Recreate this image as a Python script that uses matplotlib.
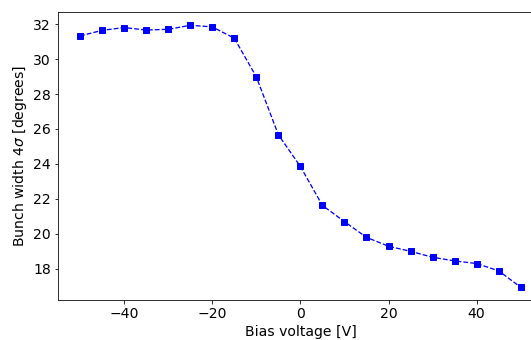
import numpy as np
import matplotlib
matplotlib.use("Agg")
import matplotlib.pyplot as plt

# Bias voltage scan
bias_voltage = [-50, -45, -40, -35, -30, -25, -20, -15, -10, -5,
                0, 5, 10, 15, 20, 25, 30, 35, 40, 45, 50]
bunch_width = [31.33, 31.65, 31.81, 31.67, 31.71, 31.94, 31.85, 31.20, 28.99, 25.67,
               23.85, 21.62, 20.69, 19.79, 19.28, 18.99, 18.65, 18.44, 18.29, 17.87, 16.93]

fig = plt.figure(figsize=(531 / 72, 340 / 72), dpi=72)
ax = fig.add_axes([0.1092, 0.1176, 0.913, 0.847])
ax.plot(bias_voltage, bunch_width, 's--', color='blue', markersize=6, linewidth=1.3)
ax.set_xlim(-55, 55)
ax.set_ylim(16.2, 32.7)
ax.set_xticks([-40, -20, 0, 20, 40])
ax.set_yticks([18, 20, 22, 24, 26, 28, 30, 32])
ax.tick_params(labelsize=14)
ax.set_xlabel('Bias voltage [V]', fontsize=14)
ax.set_ylabel(r'Bunch width $4\sigma$ [degrees]', fontsize=14)

fig.savefig('out.png', dpi=72)
